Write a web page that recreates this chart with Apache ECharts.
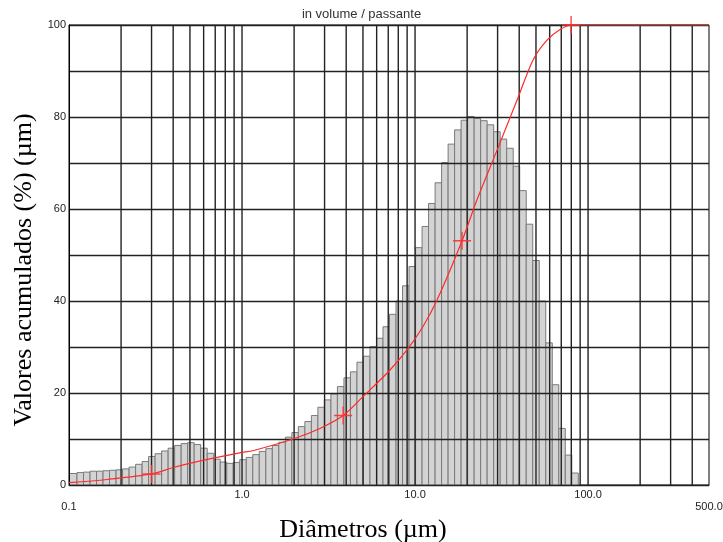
<!DOCTYPE html>
<html><head><meta charset="utf-8">
<script src="https://cdn.jsdelivr.net/npm/echarts@6/dist/echarts.min.js"></script>
<style>html,body{margin:0;padding:0;background:#fff}#c{width:723px;height:542px}</style>
</head><body><div id="c"></div>
<script>
// histogram bin edges (µm) and bar heights (%)
const binEdges = [0.1, 0.1112, 0.1213, 0.1323, 0.1443, 0.1573, 0.1715, 0.1871,
  0.2040, 0.2225, 0.2426, 0.2646, 0.2885, 0.3146, 0.3431, 0.3741,
  0.4080, 0.4449, 0.4852, 0.5291, 0.5770, 0.6292, 0.6862, 0.7483,
  0.8160, 0.8899, 0.9704, 1.0582, 1.1540, 1.2584, 1.3723, 1.4965,
  1.632, 1.780, 1.941, 2.116, 2.308, 2.517, 2.745, 2.993,
  3.264, 3.559, 3.882, 4.233, 4.616, 5.034, 5.489, 5.986,
  6.528, 7.119, 7.763, 8.466, 9.232, 10.07, 10.98, 11.97,
  13.06, 14.24, 15.53, 16.93, 18.46, 20.13, 21.96, 23.94,
  26.11, 28.48, 31.05, 33.86, 36.93, 40.27, 43.92, 47.89,
  52.22, 56.95, 62.11, 67.73, 73.86, 80.54, 87.83];
const binValues = [2.5, 2.7, 2.8, 3.0, 3.0, 3.1, 3.2, 3.3, 3.5, 3.9,
  4.5, 5.1, 6.2, 6.8, 7.4, 8.0, 8.6, 9.0, 9.2, 8.8,
  8.0, 6.9, 5.6, 5.0, 4.7, 4.9, 5.5, 6.0, 6.6, 7.3,
  7.9, 8.6, 9.3, 10.4, 11.4, 12.7, 13.8, 15.1, 16.9, 18.5,
  19.8, 21.4, 23.3, 24.6, 26.7, 28.0, 30.1, 31.9, 34.4, 37.1,
  40.0, 43.3, 47.5, 51.6, 56.2, 61.2, 65.7, 70.1, 74.1, 77.2,
  79.3, 80.1, 79.7, 79.2, 78.3, 76.8, 75.2, 73.2, 69.3, 64.0,
  56.7, 48.8, 40.0, 30.9, 21.8, 12.3, 6.5, 2.6];
// cumulative (passante) curve
const cumDiam = [0.1, 0.166, 0.30, 0.40, 0.55, 0.97, 1.17, 1.97, 2.82, 3.84, 5.0, 7.17, 9.12, 11.1, 13.4, 18.7, 22.8, 29.8, 38.9, 48.1, 57.9, 68.9, 79.8, 500];
const cumPct  = [0.5, 1.2, 2.4, 3.8, 5.1, 7.0, 7.5, 10.0, 12.3, 15.1, 19.2, 25.0, 29.7, 34.4, 40.2, 53.1, 62.0, 72.8, 83.7, 92.4, 96.7, 99.0, 100, 100];
// cross markers
const markDiam = [0.30, 3.84, 18.7, 79.8];
const markPct  = [2.4, 15.1, 53.1, 100];
// axis ticks / grid
const xGridVals = [0.2,0.3,0.4,0.5,0.6,0.7,0.8,0.9,1,2,3,4,5,6,7,8,9,10,20,30,40,50,60,70,80,90,100,200,300,400];
const xTickVals = [0.1, 1, 10, 100, 500];
const xTickText = ['0.1', '1.0', '10.0', '100.0', '500.0'];
const xTickLow  = [true, false, false, false, true];
const yTickVals = [0, 20, 40, 60, 80, 100];

const chart = echarts.init(document.getElementById('c'), null, {renderer: 'canvas'});
const barData = binValues.map((v, i) => [binEdges[i], binEdges[i + 1], v]);
const gridData = xGridVals.map(v => [v, 0, 100]);
const lineData = cumDiam.map((d, i) => [d, cumPct[i]]);
const markData = markDiam.map((d, i) => [d, markPct[i]]);

function xLabel(v) {
  let best = 0, bd = Infinity;
  xTickVals.forEach((t, i) => { const dd = Math.abs(Math.log10(v) - Math.log10(t)); if (dd < bd) { bd = dd; best = i; } });
  return xTickLow[best] ? '{low|' + xTickText[best] + '}' : xTickText[best];
}

chart.setOption({
  animation: false,
  backgroundColor: '#fff',
  title: {
    text: 'in volume / passante', left: 'center', top: 3,
    textStyle: {fontFamily: 'Liberation Sans, Arial, sans-serif', fontSize: 13, fontWeight: 'normal', color: '#333'}
  },
  grid: {left: 69, right: 14, top: 25, bottom: 57, show: true, borderColor: '#000', borderWidth: 1,
    backgroundColor: 'transparent', containLabel: false, outerBoundsMode: 'none'},
  xAxis: {
    type: 'log', logBase: 10, min: 0.1, max: 500,
    name: 'Diâmetros (µm)', nameLocation: 'middle', nameGap: 21,
    nameTextStyle: {fontFamily: 'Liberation Serif, Times New Roman, serif', fontSize: 26, color: '#000', padding: [0, 52, 0, 0]},
    axisLine: {show: true, lineStyle: {color: '#000', width: 1}},
    axisTick: {show: false},
    splitLine: {show: false},
    minorTick: {show: false},
    axisLabel: {
      customValues: xTickVals, formatter: xLabel, margin: 4,
      fontFamily: 'Liberation Sans, Arial, sans-serif', fontSize: 11, color: '#222',
      rich: {low: {padding: [12, 0, 0, 0], fontFamily: 'Liberation Sans, Arial, sans-serif', fontSize: 11, color: '#222'}}
    }
  },
  yAxis: {
    type: 'value', min: 0, max: 100, interval: 10, z: 3,
    name: 'Valores acumulados (%) (µm)', nameLocation: 'middle', nameGap: 17, nameRotate: 90,
    nameTextStyle: {fontFamily: 'Liberation Serif, Times New Roman, serif', fontSize: 26, color: '#000', padding: [0, 30, 0, 0]},
    axisLine: {show: true, lineStyle: {color: '#000', width: 1}},
    axisTick: {show: false},
    splitLine: {show: true, lineStyle: {color: '#222', width: 1.4}},
    axisLabel: {
      formatter: v => (yTickVals.indexOf(v) >= 0 ? String(v) : ''), margin: 3,
      fontFamily: 'Liberation Sans, Arial, sans-serif', fontSize: 11, color: '#222'
    }
  },
  series: [
    {
      type: 'custom', name: 'bins', z: 1, data: barData,
      encode: {x: [0, 1], y: 2},
      renderItem: (params, api) => {
        const p0 = api.coord([api.value(0), api.value(2)]);
        const p1 = api.coord([api.value(1), 0]);
        return {type: 'rect', shape: {x: p0[0], y: p0[1], width: p1[0] - p0[0], height: p1[1] - p0[1]},
          style: {fill: '#d3d3d3', stroke: '#7a7a7a', lineWidth: 1}};
      }
    },
    {
      type: 'custom', name: 'grid', z: 3, silent: true, data: gridData,
      encode: {x: 0, y: [1, 2]},
      renderItem: (params, api) => {
        const a = api.coord([api.value(0), api.value(1)]);
        const b = api.coord([api.value(0), api.value(2)]);
        return {type: 'line', shape: {x1: a[0], y1: a[1], x2: b[0], y2: b[1]}, style: {stroke: '#222', lineWidth: 1.4}};
      }
    },
    {
      type: 'line', name: 'passante', z: 5, data: lineData, showSymbol: false,
      smooth: 0.3,
      lineStyle: {color: '#ff2a2a', width: 1.2}
    },
    {
      type: 'scatter', name: 'marks', z: 6, data: markData,
      symbol: 'path://M0,8.3L18,8.3L18,9.7L0,9.7Z M8.3,0L9.7,0L9.7,18L8.3,18Z',
      symbolSize: 18,
      itemStyle: {color: '#ff3030', opacity: 0.9}
    }
  ]
});
</script>
</body></html>
